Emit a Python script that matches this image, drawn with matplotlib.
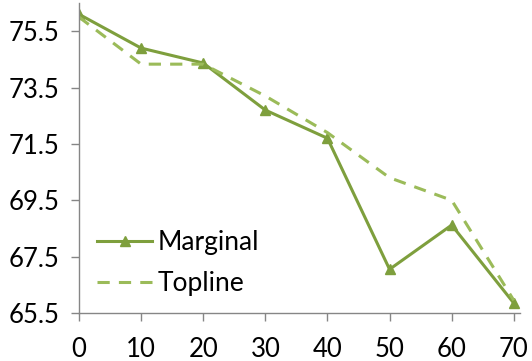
import matplotlib
matplotlib.use("Agg")
from matplotlib import pyplot as plt

x = [0, 10, 20, 30, 40, 50, 60, 70]
marginal = [76.1, 74.9, 74.37, 72.7, 71.7, 67.05, 68.62, 65.85]
topline = [76.0, 74.33, 74.33, 73.2, 71.9, 70.3, 69.5, 65.95]
yticks = [65.5, 67.5, 69.5, 71.5, 73.5, 75.5]
xticks = [0, 10, 20, 30, 40, 50, 60, 70]

plt.rcParams["font.family"] = ["Lato", "DejaVu Sans"]

fig = plt.figure(figsize=(5.32, 3.61), dpi=100)
ax = fig.add_axes([79 / 532, 48 / 361, (520 - 79) / 532, 310 / 361])

ax.plot(x, marginal, color="#7E9F3D", lw=2.2, marker="^", ms=7, label="Marginal")
ax.plot(x, topline, color="#9BBB59", lw=2.2, dashes=(4, 3), label="Topline")

ax.set_xlim(0, 71)
ax.set_ylim(65.5, 76.5)
ax.set_xticks(xticks)
ax.set_yticks(yticks)
ax.set_yticklabels([f"{v:.1f}" for v in yticks])

for side in ["top", "right"]:
    ax.spines[side].set_visible(False)
for side in ["left", "bottom"]:
    ax.spines[side].set_color("#868686")
    ax.spines[side].set_linewidth(1)
ax.tick_params(axis="both", colors="#868686", labelcolor="black", labelsize=18.5,
               length=6, width=1, direction="out")
ax.tick_params(axis="x", pad=11)
ax.tick_params(axis="y", pad=8)

ax.legend(loc="lower left", bbox_to_anchor=(-0.013, -0.022), frameon=False, fontsize=19,
          handlelength=2.1, handletextpad=0.2, labelspacing=0.6)

fig.savefig("out.png", dpi=100)
